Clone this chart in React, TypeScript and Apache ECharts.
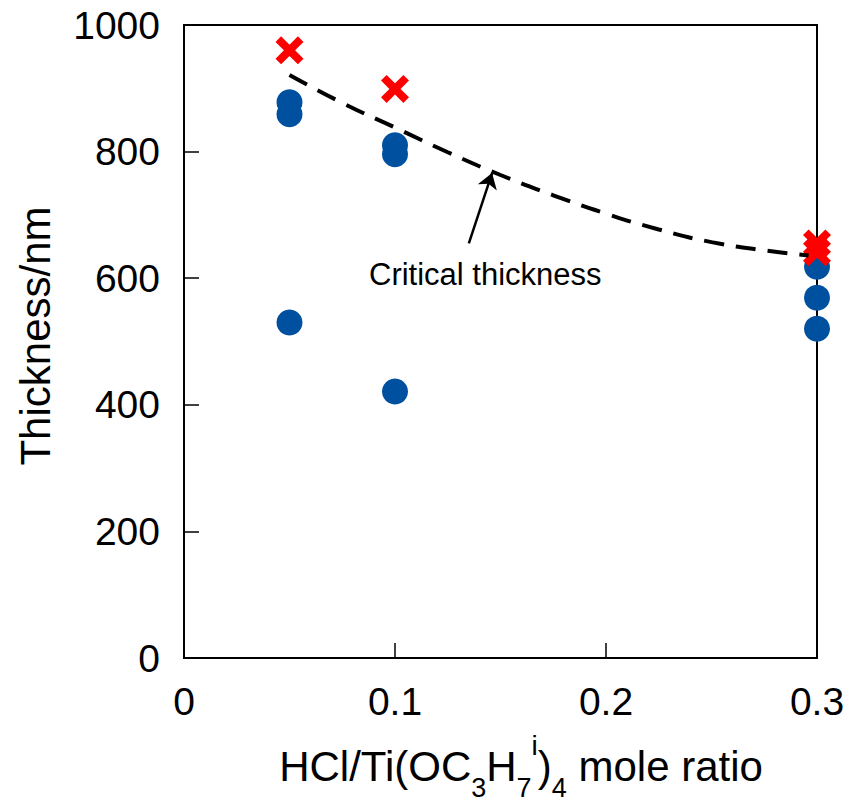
import React, { useEffect, useRef } from "react";
import * as echarts from "echarts";

// Measured thickness (blue circles)
const circleX = [0.05, 0.05, 0.05, 0.1, 0.1, 0.1, 0.3, 0.3, 0.3];
const circleY = [878, 859, 530, 810, 796, 421, 618, 569, 520];

// Cracked films (red crosses)
const crossX = [0.05, 0.1, 0.3, 0.3];
const crossY = [960, 899, 655, 641];

// Critical thickness curve (dashed)
const curveX = [0.05, 0.075, 0.1, 0.125, 0.15, 0.175, 0.2, 0.225, 0.25, 0.275, 0.296];
const curveY = [921, 877, 838, 799, 763, 731, 702, 677, 657, 644, 636];

// Arrow annotation (data coords)
const arrowFrom = [0.135, 655];
const arrowTo = [0.146, 766];

const xTicks = [0, 0.1, 0.2, 0.3];
const yTicks = [0, 200, 400, 600, 800, 1000];

const FONT = "'Liberation Sans', Arial, Helvetica, sans-serif";
const CROSS =
  "path://M0,4 L4,0 L10,6 L16,0 L20,4 L14,10 L20,16 L16,20 L10,14 L4,20 L0,16 L6,10 Z";

export default function App() {
  const ref = useRef<HTMLDivElement>(null);
  useEffect(() => {
    document.body.style.margin = "0";
    const chart = echarts.init(ref.current!, undefined, { renderer: "svg" });
    const option = {
      animation: false,
      backgroundColor: "#ffffff",
      grid: {
        left: 184,
        top: 25,
        right: 34,
        bottom: 145,
        show: true,
        borderColor: "#000",
        borderWidth: 2,
        backgroundColor: "transparent",
      },
      xAxis: {
        type: "value",
        min: xTicks[0],
        max: xTicks[xTicks.length - 1],
        interval: 0.1,
        splitLine: { show: false },
        axisLine: { show: true, lineStyle: { color: "#000", width: 2 } },
        axisTick: { show: true, inside: true, length: 15, lineStyle: { color: "#000", width: 1.5 } },
        axisLabel: {
          color: "#000",
          fontSize: 39,
          fontFamily: FONT,
          margin: 24,
          formatter: (v: number) => String(+v.toFixed(1)),
        },
      },
      yAxis: {
        type: "value",
        min: yTicks[0],
        max: yTicks[yTicks.length - 1],
        interval: 200,
        splitLine: { show: false },
        axisLine: { show: true, lineStyle: { color: "#000", width: 2 } },
        axisTick: { show: true, inside: true, length: 15, lineStyle: { color: "#000", width: 1.5 } },
        axisLabel: {
          color: "#000",
          fontSize: 39,
          fontFamily: FONT,
          margin: 24,
          formatter: (v: number) => String(v),
        },
      },
      graphic: [
        {
          type: "text",
          x: 35,
          y: 336,
          rotation: Math.PI / 2,
          style: {
            text: "Thickness/nm",
            fontSize: 42,
            fontFamily: FONT,
            fill: "#000",
            align: "center",
            verticalAlign: "middle",
          },
        },
        {
          type: "text",
          x: 521,
          y: 766,
          style: {
            text: "{a|HCl/Ti(OC}{s|3}{a|H}{s|7}{p|i}{a|)}{s|4}{a| mole ratio}",
            align: "center",
            verticalAlign: "middle",
            fill: "#000",
            fontFamily: FONT,
            rich: {
              a: { fontSize: 42, lineHeight: 70, fontFamily: FONT, fill: "#000" },
              s: { fontSize: 27, lineHeight: 27, verticalAlign: "bottom", fontFamily: FONT, fill: "#000" },
              p: { fontSize: 28, lineHeight: 36, verticalAlign: "top", fontFamily: FONT, fill: "#000" },
            },
          },
        },
        {
          type: "text",
          x: 369,
          y: 274,
          style: {
            text: "Critical thickness",
            fontSize: 31,
            fontFamily: FONT,
            fill: "#000",
            align: "left",
            verticalAlign: "middle",
          },
        },
      ],
      series: [
        {
          type: "line",
          data: curveX.map((x, i) => [x, curveY[i]]),
          smooth: true,
          symbol: "none",
          lineStyle: { color: "#000", width: 4, type: [20, 12] },
          silent: true,
          markLine: {
            silent: true,
            symbol: ["none", "arrow"],
            symbolSize: 15,
            label: { show: false },
            lineStyle: { color: "#000", width: 2.5, type: "solid" },
            data: [[{ coord: arrowFrom }, { coord: arrowTo }]],
          },
        },
        {
          type: "scatter",
          data: circleX.map((x, i) => [x, circleY[i]]),
          symbol: "circle",
          symbolSize: 26,
          itemStyle: { color: "#0050A0", opacity: 1 },
        },
        {
          type: "scatter",
          data: crossX.map((x, i) => [x, crossY[i]]),
          symbol: CROSS,
          symbolSize: 28,
          itemStyle: { color: "#FF0000", opacity: 1 },
        },
      ],
    };
    chart.setOption(option as any);
    return () => chart.dispose();
  }, []);
  return <div ref={ref} style={{ width: 851, height: 803 }} />;
}
